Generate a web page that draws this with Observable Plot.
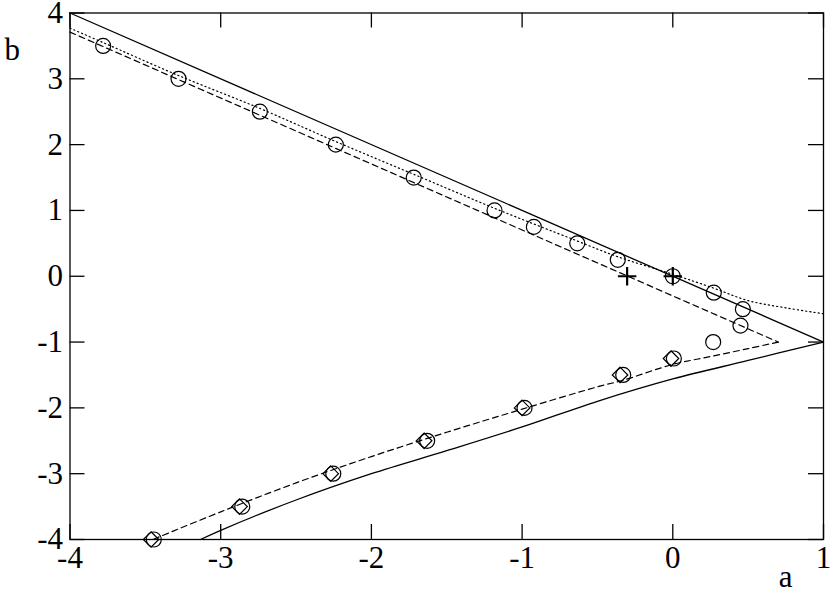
<!DOCTYPE html>
<html><head><meta charset="utf-8">
<script src="https://cdn.jsdelivr.net/npm/d3@7"></script>
<script src="https://cdn.jsdelivr.net/npm/@observablehq/plot@0.6"></script>
<style>
body{margin:0;background:#fff}
#chart svg, #chart svg text { font-family: "Liberation Serif", "DejaVu Serif", serif !important; }
</style>
</head><body><div id="chart"></div>
<script>
// tick values
const xTicks = [-4, -3, -2, -1, 0, 1];
const yTicks = [-4, -3, -2, -1, 0, 1, 2, 3, 4];

// solid upper boundary
const solidUpperA = [-4, 1];
const solidUpperB = [4, -1];
// solid lower boundary
const solidLowerA = [1, 0.5, 0, -0.5, -1, -1.5, -2, -2.5, -3, -3.134];
const solidLowerB = [-1, -1.28, -1.56, -1.9, -2.29, -2.65, -3.0, -3.4, -3.86, -4.0];
// dashed upper
const dashedUpperA = [-4, 0.7];
const dashedUpperB = [3.71, -1.0];
// dashed lower
const dashedLowerA = [0.7, 0.5, 0.25, 0, -0.33, -0.5, -1, -1.5, -2, -2.5, -3, -3.45];
const dashedLowerB = [-1.0, -1.1, -1.22, -1.34, -1.58, -1.68, -2.02, -2.37, -2.74, -3.14, -3.58, -4.0];
// dotted curve
const dottedA = [-4, -3.78, -3.28, -2.74, -2.24, -1.72, -1.18, -0.65, -0.37, 0, 0.27, 0.5, 0.75, 1];
const dottedB = [3.77, 3.55, 3.05, 2.55, 2.05, 1.55, 1.03, 0.55, 0.3, 0.03, -0.18, -0.37, -0.48, -0.57];
// circles
const circleA = [-3.78, -3.28, -2.74, -2.236, -1.719, -1.183, -0.922, -0.634, -0.365, 0, 0.272, 0.465, 0.449, 0.268, 0.007, -0.329, -0.984, -1.63, -2.253, -2.857, -3.444];
const circleB = [3.5, 3.0, 2.5, 2.0, 1.5, 1.0, 0.75, 0.5, 0.25, 0, -0.25, -0.5, -0.75, -1.0, -1.25, -1.5, -2.0, -2.5, -3.0, -3.5, -4.0];
// diamonds
const diamondA = [-0.012, -0.35, -1.0, -1.65, -2.27, -2.875, -3.462];
const diamondB = [-1.25, -1.5, -2.0, -2.5, -3.0, -3.5, -4.0];
// pluses
const plusA = [-0.303, 0];
const plusB = [0, 0];

const zip = (A, B) => A.map((a, i) => ({a, b: B[i]}));

const W = 830, H = 593, mL = 69.5, mR = 7, mT = 12.5, mB = 54;
const plotW = W - mL - mR, plotH = H - mT - mB;
const tickLen = 15;
const fmt = d => String(d);
const FF = "'Liberation Serif', 'DejaVu Serif', serif";
const FS = 31;

const chart = Plot.plot({
  width: W, height: H,
  marginLeft: mL, marginRight: mR, marginTop: mT, marginBottom: mB,
  style: {fontFamily: FF, fontSize: FS + "px", background: "white", color: "black", overflow: "visible"},
  x: {domain: [-4, 1]},
  y: {domain: [-4, 4]},
  marks: [
    Plot.line(zip(solidUpperA, solidUpperB), {x: "a", y: "b", stroke: "black", strokeWidth: 1.3}),
    Plot.line(zip(solidLowerA, solidLowerB), {x: "a", y: "b", stroke: "black", strokeWidth: 1.3, curve: "catmull-rom"}),
    Plot.line(zip(dashedUpperA, dashedUpperB), {x: "a", y: "b", stroke: "black", strokeWidth: 1.2, strokeDasharray: "6,4"}),
    Plot.line(zip(dashedLowerA, dashedLowerB), {x: "a", y: "b", stroke: "black", strokeWidth: 1.2, strokeDasharray: "6,4", curve: "catmull-rom"}),
    Plot.line(zip(dottedA, dottedB), {x: "a", y: "b", stroke: "black", strokeWidth: 1.2, strokeDasharray: "1.2,3", curve: "catmull-rom"}),
    Plot.dot(zip(circleA, circleB), {x: "a", y: "b", r: 7.5, stroke: "black", strokeWidth: 1.2, fill: "none"}),
    Plot.dot(zip(diamondA, diamondB), {x: "a", y: "b", r: 7, symbol: "diamond2", stroke: "black", strokeWidth: 1.2, fill: "none"}),
    Plot.dot(zip(plusA, plusB), {x: "a", y: "b", r: 6, symbol: "plus", stroke: "black", strokeWidth: 2.2}),
    Plot.frame({stroke: "black", strokeWidth: 1.3}),
    Plot.tickX(xTicks, {x: d => d, insetTop: plotH - tickLen, stroke: "black", strokeWidth: 1.3}),
    Plot.tickX(xTicks, {x: d => d, insetBottom: plotH - tickLen, stroke: "black", strokeWidth: 1.3}),
    Plot.tickY(yTicks, {y: d => d, insetRight: plotW - tickLen, stroke: "black", strokeWidth: 1.3}),
    Plot.tickY(yTicks, {y: d => d, insetLeft: plotW - tickLen, stroke: "black", strokeWidth: 1.3}),
    Plot.axisX(xTicks, {tickSize: 0, tickPadding: 6, tickFormat: fmt, label: null, fontSize: FS, fontFamily: FF}),
    Plot.axisY(yTicks, {tickSize: 0, tickPadding: 7, tickFormat: fmt, label: null, fontSize: FS, fontFamily: FF}),
    Plot.text(["b"], {frameAnchor: "top-left", text: d => d, textAnchor: "start", lineAnchor: "middle", dx: -65.5, dy: 37.5, fontSize: FS, fontFamily: FF}),
    Plot.text(["a"], {frameAnchor: "bottom-right", text: d => d, textAnchor: "middle", lineAnchor: "middle", dx: -38, dy: 38, fontSize: FS, fontFamily: FF})
  ]
});
document.getElementById("chart").append(chart);
</script>
</body></html>
